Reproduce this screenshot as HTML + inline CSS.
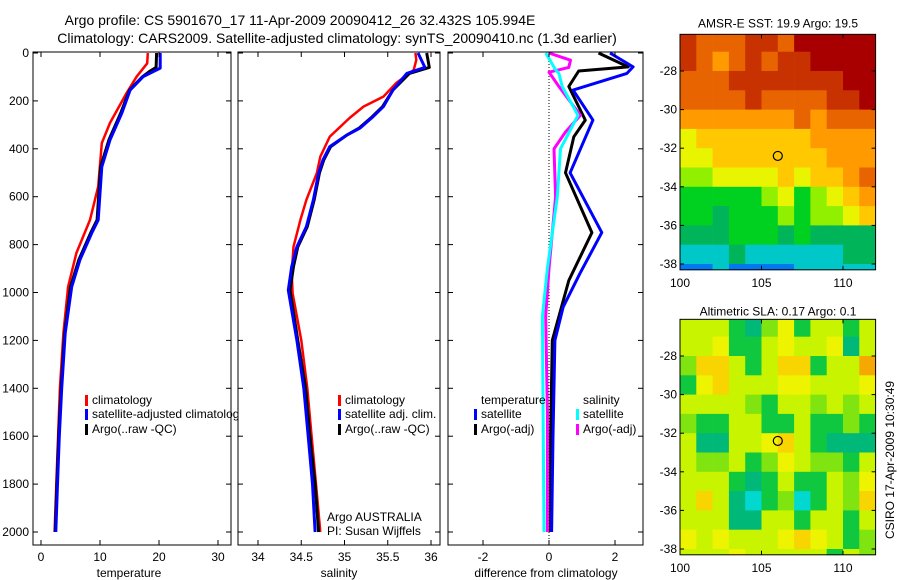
<!DOCTYPE html>
<html><head><meta charset="utf-8">
<style>
html,body{margin:0;padding:0;background:#fff;}
svg{display:block;font-family:"Liberation Sans",sans-serif;}
</style></head>
<body>
<svg id="fig" width="900" height="580" viewBox="0 0 900 580">
<rect width="900" height="580" fill="#fff"/>
<text x="300" y="25" font-size="14" text-anchor="middle">Argo profile: CS 5901670_17 11-Apr-2009 20090412_26 32.432S 105.994E</text>
<text x="337" y="43" font-size="14" text-anchor="middle">Climatology: CARS2009. Satellite-adjusted climatology: synTS_20090410.nc (1.3d earlier)</text>
<g id="plots"></g>
</svg>
<script>
// ---- data ----
const depthTicks = [0,200,400,600,800,1000,1200,1400,1600,1800,2000];
const tempTicks = [0,10,20,30];
const salTicks = [34,34.5,35,35.5,36];
const salTickLabels = ["34","34.5","35","35.5","36"];
const diffTicks = [-2,0,2];

const tClimD = [0,43,99,167,292,376,558,697,835,976,1170,1400,1600,1800,2000];
const tClimV = [18.1,18.0,16.2,14.5,11.7,10.3,9.7,8.3,6.0,4.6,3.8,3.2,2.9,2.6,2.3];
const tSatD = [0,63,78,99,155,251,363,475,697,752,864,976,1170,1400,1600,1800,2000];
const tSatV = [20.2,20.2,19.0,17.3,15.1,13.7,11.7,10.3,9.7,8.6,6.6,5.2,4.1,3.5,3.1,2.8,2.5];
const tArgoD = [0,60,75,99,155,251,363,475,697,752,864,976,1170,1400,1600,1800,2000];
const tArgoV = [19.6,19.5,18.5,17.2,15.0,13.5,11.5,10.1,9.5,8.4,6.4,5.0,4.0,3.4,3.0,2.7,2.4];

const sClimD = [0,29,71,125,182,224,271,349,433,502,613,697,809,920,1003,1200,1400,1600,1800,2000];
const sClimV = [35.82,35.83,35.80,35.60,35.45,35.22,35.06,34.83,34.72,34.68,34.56,34.49,34.41,34.39,34.40,34.5,34.57,34.62,34.67,34.72];
const sSatD = [0,60,85,155,224,266,313,342,391,447,502,613,725,809,892,990,1200,1400,1600,1800,2000];
const sSatV = [35.85,35.93,35.72,35.56,35.45,35.33,35.18,35.03,34.83,34.75,34.70,34.64,34.56,34.45,34.39,34.35,34.45,34.53,34.58,34.63,34.66];
const sArgoD = [0,60,85,155,224,266,313,342,391,447,502,613,725,809,892,990,1200,1400,1600,1800,2000];
const sArgoV = [35.95,35.98,35.75,35.56,35.44,35.32,35.17,35.03,34.84,34.76,34.71,34.65,34.57,34.46,34.41,34.37,34.46,34.55,34.6,34.66,34.7];

const dTSatD = [0,58,85,155,280,500,750,920,1060,1200,1600,2000];
const dTSatV = [1.85,2.55,2.36,0.73,1.33,0.64,1.6,0.94,0.43,0.18,0.12,0.08];
const dTArgoD = [0,58,75,140,280,350,500,750,950,1200,1600,2000];
const dTArgoV = [1.5,2.4,0.9,0.6,1.1,0.75,0.5,1.3,0.6,0.1,0.05,0.05];
const dSSatD = [0,70,85,140,260,400,600,900,1100,1500,2000];
const dSSatV = [-0.1,0.2,0.3,0.4,0.88,0.35,0.25,-0.05,-0.2,-0.18,-0.15];
const dSArgoD = [0,30,60,80,140,260,330,400,600,900,1100,1500,2000];
const dSArgoV = [0,0.65,0.6,0.0,0.3,0.95,0.5,0.15,0.2,0,-0.1,-0.05,-0.05];

const mapLon = [100,101,102,103,104,105,106,107,108,109,110,111];
const mapLat = [-26.1,-27,-28,-29,-30,-31,-32,-33,-34,-35,-36,-37,-38];
const mapLatBottom = -38.3;
const sstGrid = [
[8,7,7,7,8,8,7,9,9,9,9,9],
[8,7,6,7,8,7,8,8,9,9,9,9],
[7,7,7,8,8,8,8,8,8,8,9,9],
[7,7,7,7,8,7,7,7,7,8,8,9],
[6,6,6,6,6,6,6,7,6,7,7,7],
[4,5,5,5,5,5,5,5,6,6,6,6],
[4,4,5,5,5,5,5,5,5,6,6,6],
[3,3,4,4,4,4,5,4,5,5,6,7],
[2,2,2,2,2,3,4,2,3,4,5,6],
[2,2,1,2,2,2,3,2,3,3,4,5],
[1,1,1,2,2,2,1,2,1,1,1,1],
[0,0,0,1,0,0,0,0,0,0,1,1],
[-1,-1,0,-1,-1,-1,-1,0,0,0,0,0]];
const slaGrid = [
[4,4,4,2,1,3,5,2,4,4,2,4],
[4,4,5,2,2,4,5,4,4,5,1,4],
[3,6,6,4,2,4,6,6,2,4,4,7],
[2,5,6,4,4,4,5,5,4,4,4,5],
[4,4,4,4,3,2,4,4,3,4,3,4],
[3,2,2,4,4,2,2,4,2,2,3,2],
[4,1,1,4,4,5,6,4,2,1,1,1],
[4,3,3,4,2,3,5,4,3,3,2,4],
[4,4,4,2,1,2,4,2,2,4,3,5],
[4,6,4,1,0,2,3,0,2,4,3,6],
[4,4,4,1,1,4,4,2,4,4,2,4],
[5,4,5,4,4,4,5,6,5,4,2,3],
[4,4,4,5,4,4,4,4,4,2,4,3]];
const floatLon = 106, floatLat = -32.4;
const mapLatTicks = [-28,-30,-32,-34,-36,-38];
const mapLonTicks = [100,105,110];

// ---- helpers ----
const NS = "http://www.w3.org/2000/svg";
const root = document.getElementById('plots');
function mk(tag, attrs, parent){ const e=document.createElementNS(NS,tag); for(const k in attrs) e.setAttribute(k,attrs[k]); (parent||root).appendChild(e); return e; }
function txt(x,y,s,size,anchor,parent){ const t=mk('text',{x:x,y:y,'font-size':size||12,'text-anchor':anchor||'start'},parent); t.textContent=s; return t; }

const PT=52, PB=545;
const yD = d => 53 + d*0.2395;
const panels = [
 {x0:33,x1:231,fx:v=>41+v*5.9,name:'temperature-panel'},
 {x0:238,x1:440,fx:v=>258+(v-34)*86.5,name:'salinity-panel'},
 {x0:448,x1:643,fx:v=>549+v*33,name:'difference-panel'}
];

panels.forEach((p,i)=>{
  const g=mk('g',{});
  
  
  mk('rect',{x:p.x0,y:PT,width:p.x1-p.x0,height:PB-PT,fill:'#fff'},g);
  p.g=g;
});

function line(p,D,V,color,w,name){
  const pts=D.map((d,i)=>p.fx(V[i]).toFixed(1)+','+yD(d).toFixed(1)).join(' ');
  const e=mk('polyline',{points:pts,fill:'none',stroke:color,'stroke-width':w,'stroke-linejoin':'round'},p.g);
  
  
}
function frame(p,xt,xl){
  const g=p.g;
  mk('rect',{x:p.x0,y:PT,width:p.x1-p.x0,height:PB-PT,fill:'none',stroke:'#000','stroke-width':1},g);
  depthTicks.forEach(d=>{
    mk('line',{x1:p.x0,x2:p.x0+5,y1:yD(d),y2:yD(d),stroke:'#000'},g);
    mk('line',{x1:p.x1,x2:p.x1-5,y1:yD(d),y2:yD(d),stroke:'#000'},g);
  });
  xt.forEach((v,i)=>{
    const x=p.fx(v);
    mk('line',{x1:x,x2:x,y1:PB,y2:PB-5,stroke:'#000'},g);
    mk('line',{x1:x,x2:x,y1:PT,y2:PT+5,stroke:'#000'},g);
    const t=txt(x,561,xl[i],12,'middle',g);
    
    
  });
}
// panel 1
const p1=panels[0];
line(p1,tClimD,tClimV,'#ff0000',2.5,'temp-climatology-line');
line(p1,tArgoD,tArgoV,'#000',3,'temp-argo-line');
line(p1,tSatD,tSatV,'#0000ff',3,'temp-satellite-line');
frame(p1,tempTicks,tempTicks.map(String));
depthTicks.forEach(d=>{ const t=txt(29,yD(d)+4,String(d),12,'end',p1.g);   });
// panel 2
const p2=panels[1];
line(p2,sClimD,sClimV,'#ff0000',2.5,'sal-climatology-line');
line(p2,sArgoD,sArgoV,'#000',3,'sal-argo-line');
line(p2,sSatD,sSatV,'#0000ff',3,'sal-satellite-line');
frame(p2,salTicks,salTickLabels);
// panel 3
const p3=panels[2];
mk('line',{x1:p3.fx(0),x2:p3.fx(0),y1:PT,y2:PB,stroke:'#000','stroke-dasharray':'1,2'},p3.g);
line(p3,dTArgoD,dTArgoV,'#000',3,'diff-temp-argo-line');
line(p3,dTSatD,dTSatV,'#0000ff',3,'diff-temp-satellite-line');
line(p3,dSArgoD,dSArgoV,'#ff00ff',3,'diff-sal-argo-line');
line(p3,dSSatD,dSSatV,'#00ffff',3,'diff-sal-satellite-line');
frame(p3,diffTicks,diffTicks.map(String));

// legends
function leg(g,x,y,color,label,name){
  mk('rect',{x:x,y:y-9,width:3,height:11,fill:color},g);
  const t=txt(x+7,y,label,12,'start',g);
  
  
}
leg(p1.g,85,404,'#ff0000','climatology','legend-climatology');
leg(p1.g,85,418,'#0000ff','satellite-adjusted climatology','legend-satellite');
leg(p1.g,85,433,'#000','Argo(..raw -QC)','legend-argo');
root.appendChild(p2.g); root.appendChild(p3.g);
leg(p2.g,338,404,'#ff0000','climatology','legend-climatology-2');
leg(p2.g,338,418,'#0000ff','satellite adj. clim.','legend-satellite-2');
leg(p2.g,338,433,'#000','Argo(..raw -QC)','legend-argo-2');
txt(327,521,'Argo AUSTRALIA',12,'start',p2.g);
txt(327,535,'PI: Susan Wijffels',12,'start',p2.g);
txt(481,404,'temperature',12,'start',p3.g);
leg(p3.g,474,418,'#0000ff','satellite','legend-diff-temp-sat');
leg(p3.g,474,433,'#000','Argo(-adj)','legend-diff-temp-argo');
txt(583,404,'salinity',12,'start',p3.g);
leg(p3.g,576,418,'#00ffff','satellite','legend-diff-sal-sat');
leg(p3.g,576,433,'#ff00ff','Argo(-adj)','legend-diff-sal-argo');

[['temperature',129],['salinity',339],['difference from climatology',546]].forEach(a=>{
  const t=txt(a[1],577,a[0],12,'middle');
  
  
});

// maps
const sstColors={'-1':'#0078f0','0':'#00c8c8','1':'#00b45a','2':'#00d020','3':'#90f000','4':'#e8f400','5':'#ffc800','6':'#ff9a00','7':'#e86400','8':'#c83200','9':'#a80000'};
const slaColors={'0':'#00d8d0','1':'#00b878','2':'#10c840','3':'#80e410','4':'#c8f400','5':'#eef400','6':'#f8d400','7':'#f4a800'};
function drawMap(cfg){
  const g=mk('g',{});
  
  
  const fx=lon=>680+(lon-100)*16.3;
  const fy=lat=>cfg.y28+(-28-lat)*19.3;
  const xR=fx(112), yT=fy(-26.1), yB=fy(mapLatBottom);
  cfg.grid.forEach((row,r)=>{
    const lt=mapLat[r], lb=(r+1<mapLat.length)?mapLat[r+1]:mapLatBottom;
    row.forEach((v,c)=>{
      const cell=mk('rect',{x:fx(mapLon[c]),y:fy(lt),width:16.6,height:fy(lb)-fy(lt)+0.4,fill:cfg.colors[String(v)]},g);
      
      
    });
  });
  mk('rect',{x:680,y:yT,width:xR-680,height:yB-yT,fill:'none',stroke:'#000'},g);
  mapLatTicks.forEach(l=>{
    mk('line',{x1:680,x2:684,y1:fy(l),y2:fy(l),stroke:'#000'},g);
    mk('line',{x1:xR,x2:xR-4,y1:fy(l),y2:fy(l),stroke:'#000'},g);
    txt(677,fy(l)+4,String(l),12,'end',g);
  });
  mapLonTicks.forEach(l=>{
    mk('line',{x1:fx(l),x2:fx(l),y1:yB,y2:yB-4,stroke:'#000'},g);
    mk('line',{x1:fx(l),x2:fx(l),y1:yT,y2:yT+4,stroke:'#000'},g);
    txt(fx(l),yB+17,String(l),12,'middle',g);
  });
  const c=mk('circle',{cx:fx(floatLon),cy:fy(floatLat),r:4.5,fill:'none',stroke:'#000','stroke-width':1.2},g);
  
  
  const t=txt(778,yT-cfg.tOff,cfg.title,12,'middle',g);
  
  
}
drawMap({name:'sst-map',grid:sstGrid,colors:sstColors,y28:71,tOff:7,title:'AMSR-E SST: 19.9 Argo: 19.5'});
drawMap({name:'sla-map',grid:slaGrid,colors:slaColors,y28:356,tOff:4,title:'Altimetric SLA: 0.17 Argo: 0.1'});
const ts=txt(0,0,'CSIRO 17-Apr-2009 10:30:49',12,'middle');
ts.setAttribute('transform','translate(894,460) rotate(-90)');


</script>
</body></html>
